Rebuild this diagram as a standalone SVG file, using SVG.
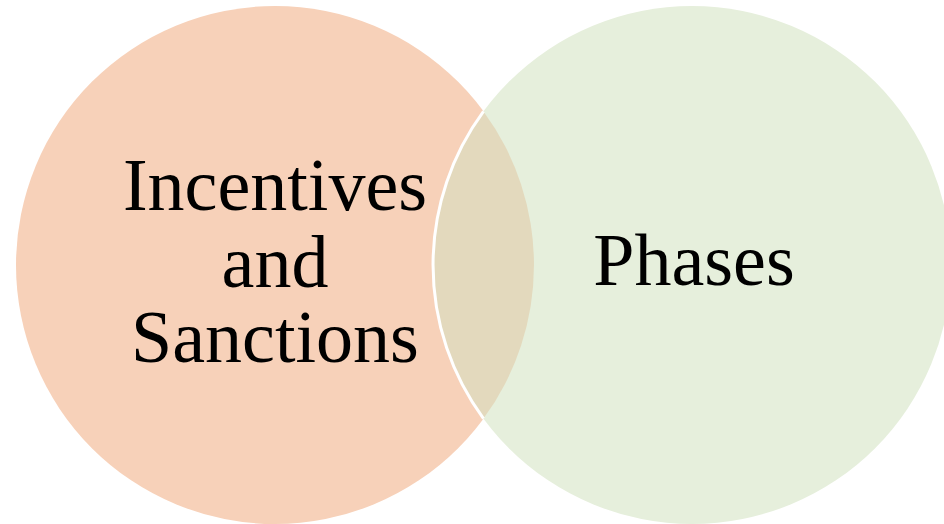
<svg xmlns="http://www.w3.org/2000/svg" width="944" height="524" viewBox="0 0 944 524">
<style>
.lbl{font-family:"Liberation Serif","Times New Roman",serif;font-size:74px;fill:#000;text-anchor:middle}
</style>
<rect width="944" height="524" fill="#fff"/>
<g id="left-circle">
<circle cx="275" cy="265" r="259" fill="#F7D1B9"/>
</g>
<g id="right-circle">
<circle cx="692" cy="265" r="259" fill="#E6EFDC"/>
</g>
<g id="overlap">
<path d="M483.5,111.4 A259,259 0 0 1 483.5,418.6 A259,259 0 0 1 483.5,111.4 Z" fill="#E3D9BD"/>
<path d="M483.5,111.4 A259,259 0 0 0 483.5,418.6" fill="none" stroke="#fff" stroke-width="3"/>
</g>
<g id="labels">
<text class="lbl" x="275" y="210">Incentives</text>
<text class="lbl" x="275" y="287">and</text>
<text class="lbl" x="275" y="362">Sanctions</text>
<text class="lbl" x="694" y="285">Phases</text>
</g>
</svg>
